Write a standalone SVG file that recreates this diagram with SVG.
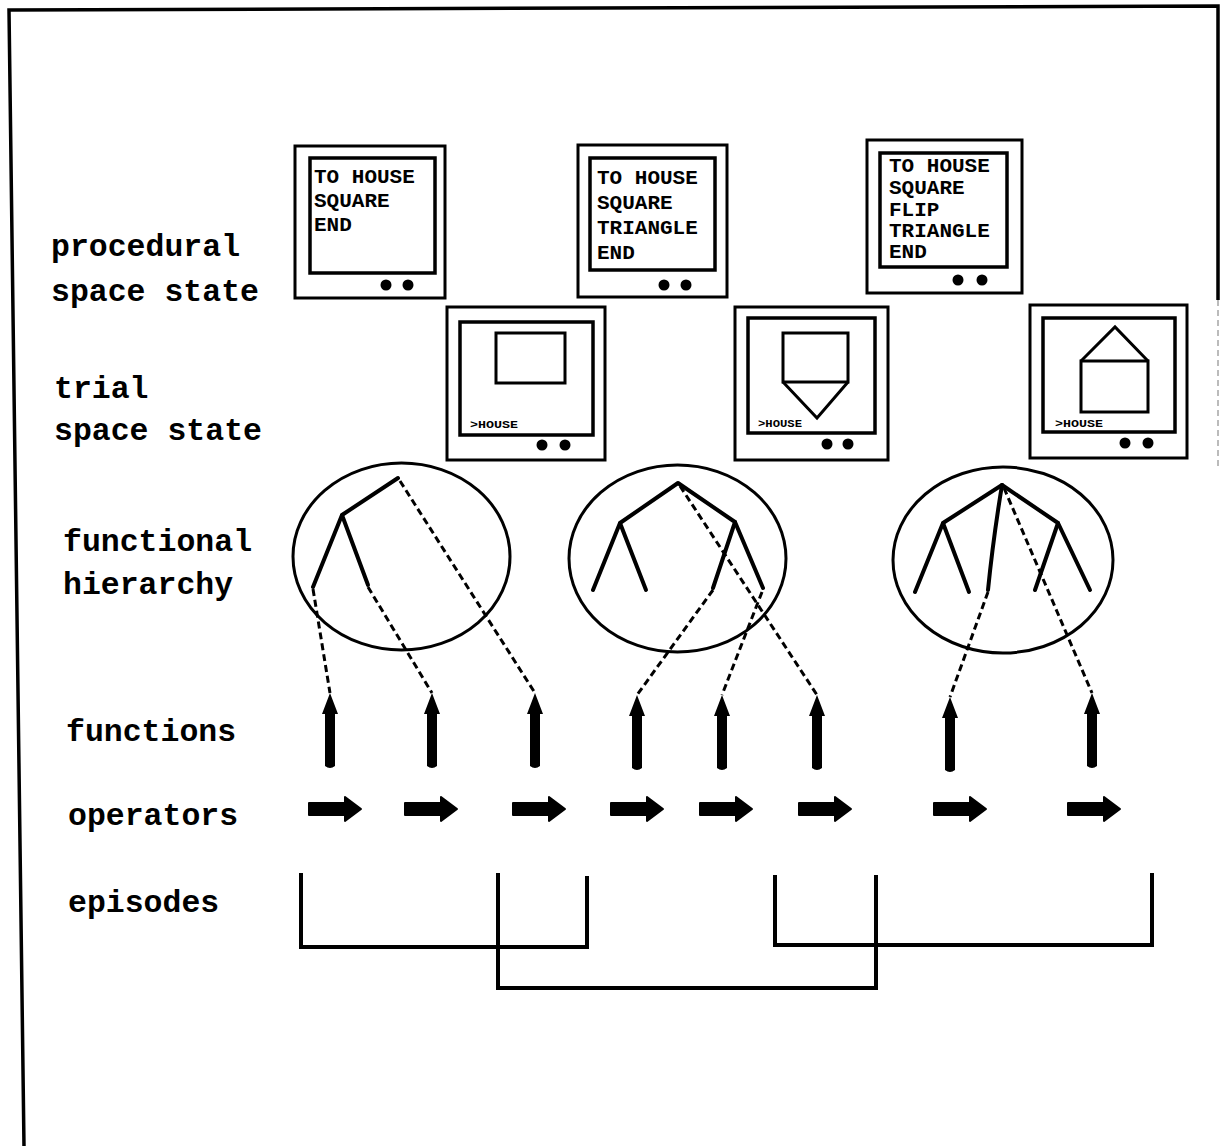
<svg xmlns="http://www.w3.org/2000/svg" xmlns:xlink="http://www.w3.org/1999/xlink" width="1222" height="1146" viewBox="0 0 1222 1146">
<style>
.frame{fill:none;stroke:#000;stroke-width:3.5}
.out{fill:#fff;stroke:#000;stroke-width:3}
.scr{fill:none;stroke:#000;stroke-width:3.5}
.shp{fill:none;stroke:#000;stroke-width:3;stroke-linejoin:miter}
.mt{font-family:"Liberation Mono","DejaVu Sans Mono",monospace;font-weight:bold;font-size:21px;fill:#000}
.st{font-family:"Liberation Mono","DejaVu Sans Mono",monospace;font-weight:bold;font-size:10px;fill:#000}
.lbl{font-family:"Liberation Mono","DejaVu Sans Mono",monospace;font-weight:bold;font-size:31.5px;fill:#000}
.ell{fill:none;stroke:#000;stroke-width:3}
.tree{fill:none;stroke:#000;stroke-width:4;stroke-linecap:round;stroke-linejoin:round}
.dash{fill:none;stroke:#000;stroke-width:3;stroke-dasharray:7 4}
.br{fill:none;stroke:#000;stroke-width:4;stroke-linejoin:miter}
.arr{fill:#000;stroke:#000;stroke-width:2;stroke-linejoin:round}
</style>
<defs>
<path id="fa" d="M0,0 L8,21 L5,21 L5,73 Q0,77 -5,73 L-5,21 L-8,21 Z"/>
<path id="oa" d="M0,-6 L36,-6 L36,-12 L52,0 L36,12 L36,6 L0,6 Z"/>
</defs>

<g id="frame">
<polyline class="frame" points="24,1146 9,10 1218,6 1218,300"/>
<line x1="1218" y1="300" x2="1218" y2="470" stroke="#bbb" stroke-width="2" stroke-dasharray="6 4"/>
</g>

<g id="labels">
<text class="lbl" x="51" y="256">procedural</text>
<text class="lbl" x="51" y="301">space state</text>
<text class="lbl" x="54" y="398">trial</text>
<text class="lbl" x="54" y="440">space state</text>
<text class="lbl" x="63" y="551">functional</text>
<text class="lbl" x="63" y="594">hierarchy</text>
<text class="lbl" x="66" y="741">functions</text>
<text class="lbl" x="68" y="825">operators</text>
<text class="lbl" x="68" y="912">episodes</text>
</g>

<g id="proc1">
<rect class="out" x="295" y="146" width="150" height="152"/>
<rect class="scr" x="310" y="158" width="125" height="115"/>
<text class="mt" x="314" y="183">TO HOUSE</text>
<text class="mt" x="314" y="207">SQUARE</text>
<text class="mt" x="314" y="231">END</text>
<circle cx="386" cy="285" r="5.5"/><circle cx="408" cy="285" r="5.5"/>
</g>

<g id="proc2">
<rect class="out" x="578" y="145" width="149" height="152"/>
<rect class="scr" x="590" y="158" width="125" height="112"/>
<text class="mt" x="597" y="184">TO HOUSE</text>
<text class="mt" x="597" y="209">SQUARE</text>
<text class="mt" x="597" y="234">TRIANGLE</text>
<text class="mt" x="597" y="259">END</text>
<circle cx="664" cy="285" r="5.5"/><circle cx="686" cy="285" r="5.5"/>
</g>

<g id="proc3">
<rect class="out" x="867" y="140" width="155" height="153"/>
<rect class="scr" x="880" y="153" width="127" height="114"/>
<text class="mt" x="889" y="172" font-size="20">TO HOUSE</text>
<text class="mt" x="889" y="194" font-size="20">SQUARE</text>
<text class="mt" x="889" y="216" font-size="20">FLIP</text>
<text class="mt" x="889" y="237" font-size="20">TRIANGLE</text>
<text class="mt" x="889" y="258" font-size="20">END</text>
<circle cx="958" cy="280" r="5.5"/><circle cx="982" cy="280" r="5.5"/>
</g>

<g id="trial1">
<rect class="out" x="447" y="307" width="158" height="153"/>
<rect class="scr" x="460" y="322" width="133" height="113"/>
<rect class="shp" x="496" y="333" width="69" height="50"/>
<text class="st" x="470" y="428" textLength="48" lengthAdjust="spacingAndGlyphs">&gt;HOUSE</text>
<circle cx="542" cy="445" r="5.5"/><circle cx="565" cy="445" r="5.5"/>
</g>

<g id="trial2">
<rect class="out" x="735" y="307" width="153" height="153"/>
<rect class="scr" x="748" y="318" width="127" height="115"/>
<rect class="shp" x="783" y="333" width="65" height="49"/>
<polyline class="shp" points="783,382 817,418 848,382"/>
<text class="st" x="758" y="427" textLength="44" lengthAdjust="spacingAndGlyphs">&gt;HOUSE</text>
<circle cx="827" cy="444" r="5.5"/><circle cx="848" cy="444" r="5.5"/>
</g>

<g id="trial3">
<rect class="out" x="1030" y="305" width="157" height="153"/>
<rect class="scr" x="1043" y="318" width="132" height="114"/>
<rect class="shp" x="1081" y="361" width="67" height="51"/>
<polyline class="shp" points="1081,361 1115,327 1148,361"/>
<text class="st" x="1055" y="427" textLength="48" lengthAdjust="spacingAndGlyphs">&gt;HOUSE</text>
<circle cx="1125" cy="443" r="5.5"/><circle cx="1148" cy="443" r="5.5"/>
</g>

<g id="hier1">
<ellipse class="ell" cx="401.5" cy="556.5" rx="108.5" ry="93.5"/>
<polyline class="tree" points="398,478 342,515 313,587"/>
<line class="tree" x1="342" y1="515" x2="368" y2="585"/>
</g>

<g id="hier2">
<ellipse class="ell" cx="677.5" cy="558.5" rx="108.5" ry="93.5"/>
<polyline class="tree" points="593,590 620,523 678,483 735,522 713,588"/>
<line class="tree" x1="620" y1="523" x2="646" y2="590"/>
<line class="tree" x1="735" y1="522" x2="763" y2="588"/>
</g>

<g id="hier3">
<ellipse class="ell" cx="1003" cy="560" rx="110" ry="93"/>
<polyline class="tree" points="915,592 943,523 1002,485 1058,523 1035,590"/>
<line class="tree" x1="943" y1="523" x2="969" y2="592"/>
<line class="tree" x1="1058" y1="523" x2="1090" y2="590"/>
<path class="tree" d="M1002,485 Q993,540 988,590"/>
</g>

<g id="functions">
<use href="#fa" x="330" y="693"/>
<use href="#fa" x="432" y="693"/>
<use href="#fa" x="535" y="693"/>
<use href="#fa" x="637" y="695"/>
<use href="#fa" x="722" y="695"/>
<use href="#fa" x="817" y="695"/>
<use href="#fa" x="950" y="697"/>
<use href="#fa" x="1092" y="693"/>
</g>

<g id="operators" class="arr">
<use href="#oa" x="309" y="809"/>
<use href="#oa" x="405" y="809"/>
<use href="#oa" x="513" y="809"/>
<use href="#oa" x="611" y="809"/>
<use href="#oa" x="700" y="809"/>
<use href="#oa" x="799" y="809"/>
<use href="#oa" x="934" y="809"/>
<use href="#oa" x="1068" y="809"/>
</g>

<g id="connectors">
<line class="dash" x1="313" y1="589" x2="330" y2="693"/>
<line class="dash" x1="368" y1="587" x2="432" y2="693"/>
<line class="dash" x1="400" y1="481" x2="535" y2="693"/>
<line class="dash" x1="713" y1="590" x2="637" y2="695"/>
<line class="dash" x1="762" y1="592" x2="722" y2="695"/>
<line class="dash" x1="680" y1="486" x2="817" y2="695"/>
<line class="dash" x1="988" y1="592" x2="950" y2="697"/>
<line class="dash" x1="1004" y1="488" x2="1092" y2="693"/>
</g>

<g id="episodes">
<polyline class="br" points="301,873 301,947 587,947 587,876"/>
<polyline class="br" points="498,873 498,988 876,988 876,875"/>
<polyline class="br" points="775,875 775,945 1152,945 1152,873"/>
</g>
</svg>
